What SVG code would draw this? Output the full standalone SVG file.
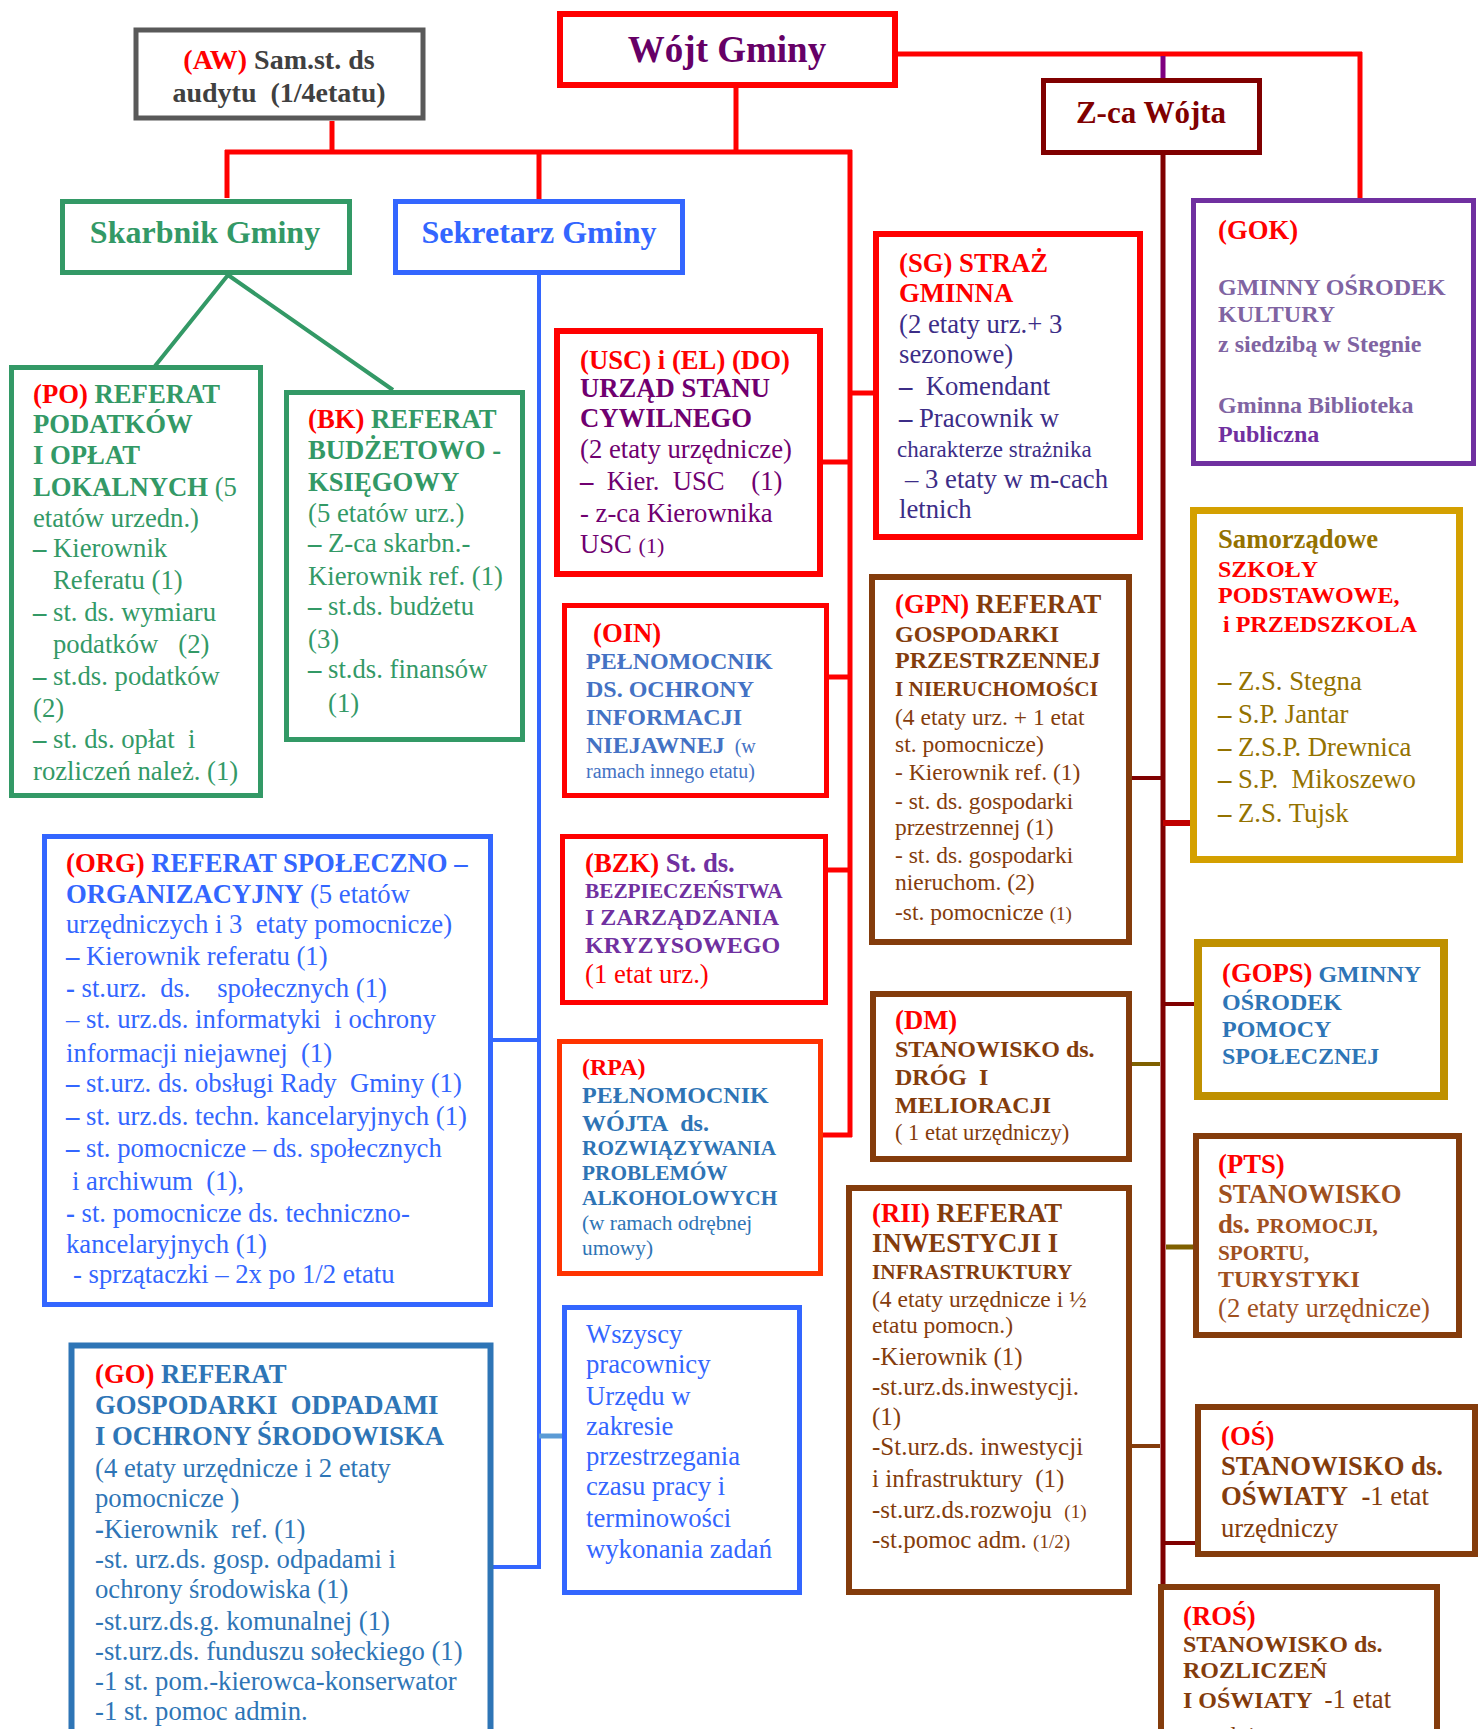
<svg xmlns="http://www.w3.org/2000/svg" width="1483" height="1729" viewBox="0 0 1483 1729">
<style>
text{font-family:"Liberation Serif","Times New Roman",serif;}
.b{font-weight:bold}
.red{fill:#ff0000}
.box{fill:#ffffff}
.ln{fill:none}
.grn{fill:#339966}
.blu{fill:#3366ff}
.brn{fill:#843c0c}
</style>
<rect width="1483" height="1729" fill="#ffffff"/>

<g id="connectors" class="ln">
  <g stroke="#ff0000" stroke-width="5">
    <path d="M332,121 V152"/>
    <path d="M225,152 H852"/>
    <path d="M227,150 V198"/>
    <path d="M539,152 V199"/>
    <path d="M736,88 V152"/>
    <path d="M850,150 V1137"/>
    <path d="M823,462 H850"/>
    <path d="M850,393 H874"/>
    <path d="M829,677 H850"/>
    <path d="M828,870 H850"/>
    <path d="M823,1135 H852"/>
    <path d="M898,54 H1362"/>
    <path d="M1360,52 V198"/>
  </g>
  <path d="M1163,56 V78" stroke="#800080" stroke-width="5"/>
  <path d="M1163,155 V1586" stroke="#800000" stroke-width="5"/>
  <path d="M1132,778 H1163" stroke="#800000" stroke-width="4"/>
  <path d="M1163,823 H1191" stroke="#c00000" stroke-width="6"/>
  <path d="M1163,1004 H1197" stroke="#800000" stroke-width="4"/>
  <path d="M1132,1064 H1160" stroke="#7f6000" stroke-width="4"/>
  <path d="M1166,1247 H1194" stroke="#7f6000" stroke-width="5"/>
  <path d="M1132,1446 H1160" stroke="#843c0c" stroke-width="4"/>
  <path d="M1163,1543 H1196" stroke="#800000" stroke-width="4"/>
  <path d="M228,275 L155,366 M228,275 L393,390" stroke="#339966" stroke-width="4"/>
  <g stroke="#3366ff" stroke-width="4">
    <path d="M539,275 V1568"/>
    <path d="M492,1040 H539"/>
    <path d="M492,1567 H541"/>
  </g>
  <path d="M539,1436 H563" stroke="#5b9bd5" stroke-width="5"/>
</g>

<g id="aw">
  <rect class="box" x="136" y="30" width="287" height="88" stroke="#595959" stroke-width="5"/>
  <text x="279" y="69" font-size="28" class="b" text-anchor="middle" fill="#404040"><tspan class="red">(AW)</tspan> Sam.st. ds</text>
  <text x="279" y="102" font-size="28" class="b" text-anchor="middle" fill="#404040">audytu&#160; (1/4etatu)</text>
</g>

<g id="wojt">
  <rect class="box" x="560" y="14" width="335" height="71" stroke="#ff0000" stroke-width="6"/>
  <text x="727" y="62" font-size="37" class="b" text-anchor="middle" fill="#660066">Wójt Gminy</text>
</g>

<g id="zca">
  <rect class="box" x="1043.5" y="80.5" width="216" height="72" stroke="#800000" stroke-width="5"/>
  <text x="1151" y="123" font-size="31" class="b" text-anchor="middle" fill="#800000">Z-ca Wójta</text>
</g>

<g id="skarbnik">
  <rect class="box" x="62.5" y="201.5" width="287" height="71" stroke="#339966" stroke-width="5"/>
  <text x="205" y="243" font-size="32" class="b grn" text-anchor="middle">Skarbnik Gminy</text>
</g>

<g id="sekretarz">
  <rect class="box" x="395.5" y="201.5" width="287" height="71" stroke="#3366ff" stroke-width="5"/>
  <text x="539" y="243" font-size="32" class="b blu" text-anchor="middle">Sekretarz Gminy</text>
</g>

<g id="po" class="grn" font-size="26.7">
  <rect class="box" x="11.5" y="367.5" width="249" height="428" stroke="#339966" stroke-width="5"/>
  <text x="33" y="403" class="b"><tspan class="red">(PO)</tspan> REFERAT</text>
  <text x="33" y="433" class="b">PODATKÓW</text>
  <text x="33" y="464" class="b">I OPŁAT</text>
  <text x="33" y="496"><tspan class="b">LOKALNYCH</tspan> (5</text>
  <text x="33" y="527">etatów urzedn.)</text>
  <text x="33" y="557"><tspan class="b">–</tspan> Kierownik</text>
  <text x="53" y="589">Referatu (1)</text>
  <text x="33" y="621"><tspan class="b">–</tspan> st. ds. wymiaru</text>
  <text x="53" y="653">podatków &#160; (2)</text>
  <text x="33" y="685"><tspan class="b">–</tspan> st.ds. podatków</text>
  <text x="33" y="717">(2)</text>
  <text x="33" y="748"><tspan class="b">–</tspan> st. ds. opłat&#160; i</text>
  <text x="33" y="780">rozliczeń należ. (1)</text>
</g>

<g id="bk" class="grn" font-size="26.7">
  <rect class="box" x="286.5" y="392.5" width="236" height="347" stroke="#339966" stroke-width="5"/>
  <text x="308" y="428" class="b"><tspan class="red">(BK)</tspan> REFERAT</text>
  <text x="308" y="459" class="b">BUDŻETOWO -</text>
  <text x="308" y="491" class="b">KSIĘGOWY</text>
  <text x="308" y="522">(5 etatów urz.)</text>
  <text x="308" y="552"><tspan class="b">–</tspan> Z-ca skarbn.-</text>
  <text x="308" y="585">Kierownik ref. (1)</text>
  <text x="308" y="615"><tspan class="b">–</tspan> st.ds. budżetu</text>
  <text x="308" y="648">(3)</text>
  <text x="308" y="678"><tspan class="b">–</tspan> st.ds. finansów</text>
  <text x="328" y="712">(1)</text>
</g>

<g id="org" class="blu" font-size="26.7">
  <rect class="box" x="44.5" y="836.5" width="446" height="468" stroke="#3366ff" stroke-width="5"/>
  <text x="66" y="872" class="b"><tspan class="red">(ORG)</tspan> REFERAT SPOŁECZNO –</text>
  <text x="66" y="903"><tspan class="b">ORGANIZACYJNY</tspan> (5 etatów</text>
  <text x="66" y="933">urzędniczych i 3&#160; etaty pomocnicze)</text>
  <text x="66" y="965"><tspan class="b">–</tspan> Kierownik referatu (1)</text>
  <text x="66" y="997"><tspan class="b">-</tspan> st.urz.&#160; ds.&#160;&#160;&#160; społecznych (1)</text>
  <text x="66" y="1028">– st. urz.ds. informatyki&#160; i ochrony</text>
  <text x="66" y="1062">informacji niejawnej&#160; (1)</text>
  <text x="66" y="1092"><tspan class="b">–</tspan> st.urz. ds. obsługi Rady&#160; Gminy (1)</text>
  <text x="66" y="1125"><tspan class="b">–</tspan> st. urz.ds. techn. kancelaryjnych (1)</text>
  <text x="66" y="1157"><tspan class="b">–</tspan> st. pomocnicze – ds. społecznych</text>
  <text x="72" y="1190">i archiwum&#160; (1),</text>
  <text x="66" y="1222"><tspan class="b">-</tspan> st. pomocnicze ds. techniczno-</text>
  <text x="66" y="1253">kancelaryjnych (1)</text>
  <text x="73" y="1283">- sprzątaczki – 2x po 1/2 etatu</text>
</g>

<g id="go" fill="#2e75b6" font-size="26.7">
  <rect class="box" x="71.5" y="1345.5" width="419" height="400" stroke="#2e75b6" stroke-width="6"/>
  <text x="95" y="1383" class="b"><tspan class="red">(GO)</tspan> REFERAT</text>
  <text x="95" y="1414" class="b">GOSPODARKI&#160; ODPADAMI</text>
  <text x="95" y="1445" class="b">I OCHRONY ŚRODOWISKA</text>
  <text x="95" y="1477">(4 etaty urzędnicze i 2 etaty</text>
  <text x="95" y="1507">pomocnicze )</text>
  <text x="95" y="1538"><tspan class="b">-</tspan>Kierownik&#160; ref. (1)</text>
  <text x="95" y="1568">-st. urz.ds. gosp. odpadami i</text>
  <text x="95" y="1598">ochrony środowiska (1)</text>
  <text x="95" y="1630">-st.urz.ds.g. komunalnej (1)</text>
  <text x="95" y="1660">-st.urz.ds. funduszu sołeckiego (1)</text>
  <text x="95" y="1690">-1 st. pom.-kierowca-konserwator</text>
  <text x="95" y="1720">-1 st. pomoc admin.</text>
</g>

<g id="usc" fill="#700070" font-size="26.7">
  <rect class="box" x="557" y="331" width="263" height="243" stroke="#ff0000" stroke-width="6"/>
  <text x="580" y="369" class="b red">(USC) i (EL) (DO)</text>
  <text x="580" y="397" class="b">URZĄD STANU</text>
  <text x="580" y="427" class="b">CYWILNEGO</text>
  <text x="580" y="458">(2 etaty urzędnicze)</text>
  <text x="580" y="490"><tspan class="b">–</tspan>&#160; Kier.&#160; USC &#160;&#160; (1)</text>
  <text x="580" y="522">- z-ca Kierownika</text>
  <text x="580" y="553">USC <tspan font-size="22">(1)</tspan></text>
</g>

<g id="sg" fill="#3c2d87" font-size="26.7">
  <rect class="box" x="876" y="234" width="264" height="303" stroke="#ff0000" stroke-width="6"/>
  <text x="899" y="272" class="b red">(SG) STRAŻ</text>
  <text x="899" y="302" class="b red">GMINNA</text>
  <text x="899" y="333">(2 etaty urz.+ 3</text>
  <text x="899" y="363">sezonowe)</text>
  <text x="899" y="395"><tspan class="b">–</tspan>&#160; Komendant</text>
  <text x="899" y="427"><tspan class="b">–</tspan> Pracownik w</text>
  <text x="897" y="457" font-size="23">charakterze strażnika</text>
  <text x="905" y="488">– 3 etaty w m-cach</text>
  <text x="899" y="518">letnich</text>
</g>

<g id="oin" fill="#4472c4" font-size="24">
  <rect class="box" x="564.5" y="605.5" width="262" height="190" stroke="#ff0000" stroke-width="5"/>
  <text x="593" y="642" class="b red" font-size="26.7">(OIN)</text>
  <text x="586" y="669" class="b">PEŁNOMOCNIK</text>
  <text x="586" y="697" class="b">DS. OCHRONY</text>
  <text x="586" y="725" class="b">INFORMACJI</text>
  <text x="586" y="753"><tspan class="b">NIEJAWNEJ</tspan><tspan font-size="20">&#160; (w</tspan></text>
  <text x="586" y="778" font-size="20">ramach innego etatu)</text>
</g>

<g id="bzk" fill="#7030a0" font-size="24">
  <rect class="box" x="562.5" y="836.5" width="263" height="166" stroke="#ff0000" stroke-width="5"/>
  <text x="585" y="872" class="b" font-size="26.7"><tspan class="red">(BZK)</tspan> St. ds.</text>
  <text x="585" y="898" class="b" font-size="21.3">BEZPIECZEŃSTWA</text>
  <text x="585" y="925" class="b">I ZARZĄDZANIA</text>
  <text x="585" y="953" class="b">KRYZYSOWEGO</text>
  <text x="585" y="983" class="red" font-size="26.7">(1 etat urz.)</text>
</g>

<g id="rpa" fill="#2e74b5" font-size="24">
  <rect class="box" x="559.5" y="1041.5" width="261" height="232" stroke="#ff3300" stroke-width="5"/>
  <text x="582" y="1075" class="b red">(RPA)</text>
  <text x="582" y="1103" class="b">PEŁNOMOCNIK</text>
  <text x="582" y="1131" class="b">WÓJTA&#160; ds.</text>
  <text x="582" y="1155" class="b" font-size="21.3">ROZWIĄZYWANIA</text>
  <text x="582" y="1180" class="b" font-size="21.3">PROBLEMÓW</text>
  <text x="582" y="1205" class="b" font-size="21.3">ALKOHOLOWYCH</text>
  <text x="582" y="1230" font-size="21.3">(w ramach odrębnej</text>
  <text x="582" y="1255" font-size="21.3">umowy)</text>
</g>

<g id="wszyscy" class="blu" font-size="26.7">
  <rect class="box" x="564.5" y="1307.5" width="235" height="285" stroke="#3366ff" stroke-width="5"/>
  <text x="586" y="1343">Wszyscy</text>
  <text x="586" y="1373">pracownicy</text>
  <text x="586" y="1405">Urzędu w</text>
  <text x="586" y="1435">zakresie</text>
  <text x="586" y="1465">przestrzegania</text>
  <text x="586" y="1495">czasu pracy i</text>
  <text x="586" y="1527">terminowości</text>
  <text x="586" y="1558">wykonania zadań</text>
</g>

<g id="gok" fill="#8064a2" font-size="24">
  <rect class="box" x="1193.5" y="200.5" width="280" height="263" stroke="#7030a0" stroke-width="5"/>
  <text x="1218" y="239" class="b red" font-size="26.7">(GOK)</text>
  <text x="1218" y="295" class="b">GMINNY OŚRODEK</text>
  <text x="1218" y="322" class="b">KULTURY</text>
  <text x="1218" y="352" class="b">z siedzibą w Stegnie</text>
  <text x="1218" y="413" class="b">Gminna Biblioteka</text>
  <text x="1218" y="442" class="b" fill="#7030a0">Publiczna</text>
</g>

<g id="szkoly" fill="#947200" font-size="26.7">
  <rect class="box" x="1193.5" y="510.5" width="266" height="349" stroke="#d4a000" stroke-width="7"/>
  <text x="1218" y="548" class="b">Samorządowe</text>
  <text x="1218" y="577" class="b red" font-size="24">SZKOŁY</text>
  <text x="1218" y="603" class="b red" font-size="24">PODSTAWOWE,</text>
  <text x="1223" y="632" class="b red" font-size="24">i PRZEDSZKOLA</text>
  <text x="1218" y="690"><tspan class="b">–</tspan> Z.S. Stegna</text>
  <text x="1218" y="723"><tspan class="b">–</tspan> S.P. Jantar</text>
  <text x="1218" y="756"><tspan class="b">–</tspan> Z.S.P. Drewnica</text>
  <text x="1218" y="788"><tspan class="b">–</tspan> S.P.&#160; Mikoszewo</text>
  <text x="1218" y="822"><tspan class="b">–</tspan> Z.S. Tujsk</text>
</g>

<g id="gpn" class="brn" font-size="23.5">
  <rect class="box" x="872" y="577" width="257" height="365" stroke="#843c0c" stroke-width="6"/>
  <text x="895" y="613" class="b" font-size="26.7"><tspan class="red">(GPN)</tspan> REFERAT</text>
  <text x="895" y="642" class="b" font-size="24">GOSPODARKI</text>
  <text x="895" y="668" class="b" font-size="24">PRZESTRZENNEJ</text>
  <text x="895" y="696" class="b" font-size="21.3">I NIERUCHOMOŚCI</text>
  <text x="895" y="725">(4 etaty urz. + 1 etat</text>
  <text x="895" y="752">st. pomocnicze)</text>
  <text x="895" y="780">- Kierownik ref. (1)</text>
  <text x="895" y="809">- st. ds. gospodarki</text>
  <text x="895" y="835">przestrzennej (1)</text>
  <text x="895" y="863">- st. ds. gospodarki</text>
  <text x="895" y="890">nieruchom. (2)</text>
  <text x="895" y="920">-st. pomocnicze <tspan font-size="19">(1)</tspan></text>
</g>

<g id="dm" class="brn" font-size="24">
  <rect class="box" x="873" y="994" width="256" height="165" stroke="#843c0c" stroke-width="6"/>
  <text x="895" y="1029" class="b red" font-size="26.7">(DM)</text>
  <text x="895" y="1057" class="b">STANOWISKO ds.</text>
  <text x="895" y="1085" class="b">DRÓG&#160; I</text>
  <text x="895" y="1113" class="b">MELIORACJI</text>
  <text x="895" y="1140" font-size="22.5">( 1 etat urzędniczy)</text>
</g>

<g id="gops" fill="#2e75b6" font-size="24">
  <rect class="box" x="1198" y="943" width="246" height="153" stroke="#bf9000" stroke-width="8"/>
  <text x="1222" y="982" class="b"><tspan class="red" font-size="26.7">(GOPS)</tspan> GMINNY</text>
  <text x="1222" y="1010" class="b">OŚRODEK</text>
  <text x="1222" y="1037" class="b">POMOCY</text>
  <text x="1222" y="1064" class="b">SPOŁECZNEJ</text>
</g>

<g id="pts" fill="#a0501e" font-size="26.7">
  <rect class="box" x="1196" y="1136" width="263" height="199" stroke="#843c0c" stroke-width="6"/>
  <text x="1218" y="1173" class="b red">(PTS)</text>
  <text x="1218" y="1203" class="b">STANOWISKO</text>
  <text x="1218" y="1233" class="b">ds. <tspan font-size="21.3">PROMOCJI,</tspan></text>
  <text x="1218" y="1260" class="b" font-size="21.3">SPORTU,</text>
  <text x="1218" y="1287" class="b" font-size="24">TURYSTYKI</text>
  <text x="1218" y="1317">(2 etaty urzędnicze)</text>
</g>

<g id="rii" class="brn" font-size="25">
  <rect class="box" x="849" y="1188" width="280" height="404" stroke="#843c0c" stroke-width="6"/>
  <text x="872" y="1222" class="b" font-size="26.7"><tspan class="red">(RII)</tspan> REFERAT</text>
  <text x="872" y="1252" class="b" font-size="26.7">INWESTYCJI I</text>
  <text x="872" y="1279" class="b" font-size="21.3">INFRASTRUKTURY</text>
  <text x="872" y="1307" font-size="23.5">(4 etaty urzędnicze i ½</text>
  <text x="872" y="1333" font-size="23.5">etatu pomocn.)</text>
  <text x="872" y="1365">-Kierownik (1)</text>
  <text x="872" y="1395">-st.urz.ds.inwestycji.</text>
  <text x="872" y="1425">(1)</text>
  <text x="872" y="1455">-St.urz.ds. inwestycji</text>
  <text x="872" y="1487">i infrastruktury&#160; (1)</text>
  <text x="872" y="1518">-st.urz.ds.rozwoju&#160; <tspan font-size="19">(1)</tspan></text>
  <text x="872" y="1548">-st.pomoc adm. <tspan font-size="19">(1/2)</tspan></text>
</g>

<g id="os" class="brn" font-size="26.7">
  <rect class="box" x="1198" y="1407" width="277" height="147" stroke="#843c0c" stroke-width="6"/>
  <text x="1221" y="1445" class="b red">(OŚ)</text>
  <text x="1221" y="1475" class="b">STANOWISKO ds.</text>
  <text x="1221" y="1505"><tspan class="b">OŚWIATY&#160; -</tspan>1 etat</text>
  <text x="1221" y="1537">urzędniczy</text>
</g>

<g id="ros" class="brn" font-size="24">
  <rect class="box" x="1161" y="1587" width="276" height="200" stroke="#843c0c" stroke-width="6"/>
  <text x="1183" y="1625" class="b red" font-size="26.7">(ROŚ)</text>
  <text x="1183" y="1652" class="b">STANOWISKO ds.</text>
  <text x="1183" y="1678" class="b">ROZLICZEŃ</text>
  <text x="1183" y="1708"><tspan class="b">I OŚWIATY&#160; -</tspan><tspan font-size="26.7">1 etat</tspan></text>
  <text x="1183" y="1743">urzędniczy</text>
</g>
</svg>
